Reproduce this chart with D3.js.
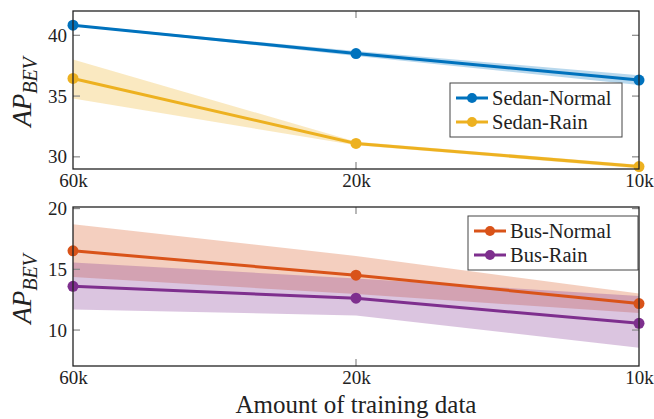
<!DOCTYPE html>
<html>
<head>
<meta charset="utf-8">
<script src="https://cdn.jsdelivr.net/npm/d3@7"></script>
<style>
body{margin:0;background:#fff;}
svg{display:block;}
</style>
</head>
<body>
<div id="chart"></div>
<script>
var categories = ["60k", "20k", "10k"];

// top panel
var sedanNormal = [40.83, 38.5, 36.32];
var sedanNormalLow = [40.78, 38.3, 35.92];
var sedanNormalHigh = [40.88, 38.7, 36.72];
var sedanRain = [36.45, 31.1, 29.2];
var sedanRainLow = [34.8, 30.95, 29.05];
var sedanRainHigh = [38.0, 31.25, 29.35];
var topTicks = [30, 35, 40];

// bottom panel
var busNormal = [16.52, 14.52, 12.18];
var busNormalLow = [14.36, 12.96, 11.4];
var busNormalHigh = [18.7, 16.1, 13.0];
var busRain = [13.6, 12.62, 10.55];
var busRainLow = [11.7, 11.2, 8.55];
var busRainHigh = [15.57, 14.25, 12.8];
var bottomTicks = [10, 15, 20];

var W = 654, H = 419;
var svg = d3.select("#chart").append("svg")
    .attr("width", W).attr("height", H);

var font = "'Liberation Serif', monospace";

var x = d3.scalePoint()
    .domain(categories)
    .range([73, 639]);

function panel(opts){
    var y = d3.scaleLinear().domain(opts.domain).range([opts.bottom, opts.top]);
    var g = svg.append("g");

    // bands first
    opts.series.forEach(function(s){
        var area = d3.area()
            .x(function(d,i){ return x(categories[i]); })
            .y0(function(d,i){ return y(s.low[i]); })
            .y1(function(d,i){ return y(s.high[i]); });
        g.append("path")
            .datum(s.values)
            .attr("d", area)
            .attr("fill", s.color)
            .attr("fill-opacity", 0.28);
    });

    // inner ticks (left + right)
    opts.ticks.forEach(function(t){
        g.append("line")
            .attr("x1", 73).attr("x2", 80)
            .attr("y1", y(t)).attr("y2", y(t))
            .attr("stroke", "#888").attr("stroke-width", 1.2);
        g.append("line")
            .attr("x1", 632).attr("x2", 639)
            .attr("y1", y(t)).attr("y2", y(t))
            .attr("stroke", "#888").attr("stroke-width", 1.2);
    });
    // x ticks at middle category
    g.append("line")
        .attr("x1", x(categories[1])).attr("x2", x(categories[1]))
        .attr("y1", opts.top).attr("y2", opts.top + 7)
        .attr("stroke", "#888").attr("stroke-width", 1.2);
    g.append("line")
        .attr("x1", x(categories[1])).attr("x2", x(categories[1]))
        .attr("y1", opts.bottom).attr("y2", opts.bottom - 7)
        .attr("stroke", "#888").attr("stroke-width", 1.2);

    // y axis labels via d3 axis
    var yAxis = d3.axisLeft(y).tickValues(opts.ticks).tickSize(0).tickPadding(6);
    var ya = g.append("g").attr("transform", "translate(73,0)").call(yAxis)
        .attr("font-family", null).attr("font-size", null);
    ya.select(".domain").remove();
    ya.selectAll("text")
        .style("font-family", font).attr("font-size", 19).attr("fill", "#222");

    var xAxis = d3.axisBottom(x).tickSize(0).tickPadding(5);
    var xa = g.append("g").attr("transform", "translate(0," + opts.bottom + ")").call(xAxis)
        .attr("font-family", null).attr("font-size", null);
    xa.select(".domain").remove();
    xa.selectAll("text")
        .style("font-family", font).attr("font-size", 19).attr("fill", "#222");

    // lines + markers
    opts.series.forEach(function(s){
        var line = d3.line()
            .x(function(d,i){ return x(categories[i]); })
            .y(function(d){ return y(d); });
        g.append("path")
            .datum(s.values)
            .attr("d", line)
            .attr("fill", "none")
            .attr("stroke", s.color)
            .attr("stroke-width", 3);
        g.selectAll(null)
            .data(s.values)
            .enter()
            .append("circle")
            .attr("cx", function(d,i){ return x(categories[i]); })
            .attr("cy", function(d){ return y(d); })
            .attr("r", 5.5)
            .attr("fill", s.color);
    });

    // frame
    g.append("rect")
        .attr("x", 73).attr("y", opts.top)
        .attr("width", 639 - 73).attr("height", opts.bottom - opts.top)
        .attr("fill", "none").attr("stroke", "#222").attr("stroke-width", 1.3);

    // y title AP_BEV
    var yt = g.append("text")
        .attr("transform", "translate(" + opts.labelX + "," + opts.labelY + ") rotate(-90)")
        .attr("text-anchor", "middle")
        .style("font-family", font).style("font-style", "italic")
        .attr("fill", "#222");
    yt.append("tspan").text("AP").attr("font-size", 27);
    yt.append("tspan").text("BEV").attr("font-size", 20).attr("dy", 6);

    // legend
    var lg = g.append("g").attr("transform", "translate(" + opts.legend[0] + "," + opts.legend[1] + ")");
    lg.append("rect")
        .attr("width", opts.legend[2]).attr("height", 54)
        .attr("fill", "#fff").attr("stroke", "#444").attr("stroke-width", 1);
    opts.series.forEach(function(s, i){
        var yy = 15 + i * 24;
        lg.append("line")
            .attr("x1", 6).attr("x2", 38)
            .attr("y1", yy).attr("y2", yy)
            .attr("stroke", s.color).attr("stroke-width", 3);
        lg.append("circle").attr("cx", 22).attr("cy", yy).attr("r", 5).attr("fill", s.color);
        lg.append("text")
            .attr("x", 42).attr("y", yy)
            .attr("dy", "0.35em")
            .text(s.name)
            .style("font-family", font).attr("font-size", 20.5)
            .attr("fill", "#222");
    });
}

panel({
    domain: [29, 42], top: 11, bottom: 169,
    ticks: topTicks, labelX: 31, labelY: 92,
    legend: [450, 83, 172],
    series: [
        {name: "Sedan-Normal", color: "#0072BD", values: sedanNormal, low: sedanNormalLow, high: sedanNormalHigh},
        {name: "Sedan-Rain", color: "#EDB120", values: sedanRain, low: sedanRainLow, high: sedanRainHigh}
    ]
});

panel({
    domain: [7.04, 20.13], top: 207, bottom: 366,
    ticks: bottomTicks, labelX: 31, labelY: 289,
    legend: [468, 216, 170],
    series: [
        {name: "Bus-Normal", color: "#D95319", values: busNormal, low: busNormalLow, high: busNormalHigh},
        {name: "Bus-Rain", color: "#7E2F8E", values: busRain, low: busRainLow, high: busRainHigh}
    ]
});

svg.append("text")
    .attr("x", x(categories[1]))
    .attr("y", 413)
    .attr("text-anchor", "middle")
    .text("Amount of training data")
    .style("font-family", font).attr("font-size", 25)
    .attr("fill", "#222");
</script>
</body>
</html>
